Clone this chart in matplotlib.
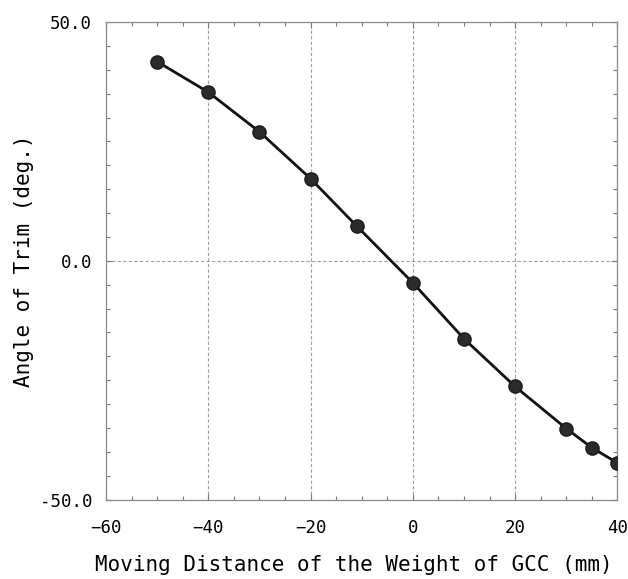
import matplotlib.pyplot as plt
from matplotlib.ticker import MultipleLocator, FormatStrFormatter

# Trim angle measured against the shift of the GCC weight
distance_mm = [-50, -40, -30, -20, -11, 0, 10, 20, 30, 35, 40]
trim_deg = [41.7, 35.3, 27.0, 17.2, 7.3, -4.6, -16.3, -26.3, -35.1, -39.1, -42.3]

FONT = "DejaVu Sans Mono"

fig = plt.figure(figsize=(6.28, 5.79), dpi=100)
ax = fig.add_axes([0.169, 0.137, 0.814, 0.825])

ax.plot(distance_mm, trim_deg, color="#111111", linewidth=2.0, zorder=3)
ax.plot(distance_mm, trim_deg, linestyle="none", marker="o", markersize=9.5,
        markerfacecolor="#2b2b2b", markeredgecolor="#1a1a1a", zorder=4)

ax.set_xlim(-60, 40)
ax.set_ylim(-50, 50)
ax.xaxis.set_major_locator(MultipleLocator(20))
ax.xaxis.set_minor_locator(MultipleLocator(5))
ax.yaxis.set_major_locator(MultipleLocator(50))
ax.yaxis.set_minor_locator(MultipleLocator(5))
ax.yaxis.set_major_formatter(FormatStrFormatter("%.1f"))

ax.grid(True, which="major", linestyle=(0, (3, 2)), color="#a0a0a0", linewidth=0.8)
for side in ax.spines.values():
    side.set_color("#8a8a8a")
    side.set_linewidth(0.9)

ax.tick_params(which="both", direction="in", top=True, right=True,
               color="#777777", width=0.8)
ax.tick_params(which="major", length=4)
ax.tick_params(which="minor", length=3)
ax.tick_params(axis="x", which="major", pad=14)
ax.tick_params(axis="y", which="major", pad=10)

for lbl in ax.get_xticklabels() + ax.get_yticklabels():
    lbl.set_fontfamily(FONT)
    lbl.set_fontsize(12.5)
    lbl.set_fontweight("medium")

ax.set_xlabel("Moving Distance of the Weight of GCC (mm)", fontfamily=FONT,
              fontsize=15, labelpad=10)
ax.xaxis.set_label_coords(0.485, -0.115)
ax.set_ylabel("Angle of Trim (deg.)", fontfamily=FONT, fontsize=15, labelpad=4)

fig.savefig("out.png", dpi=100)
